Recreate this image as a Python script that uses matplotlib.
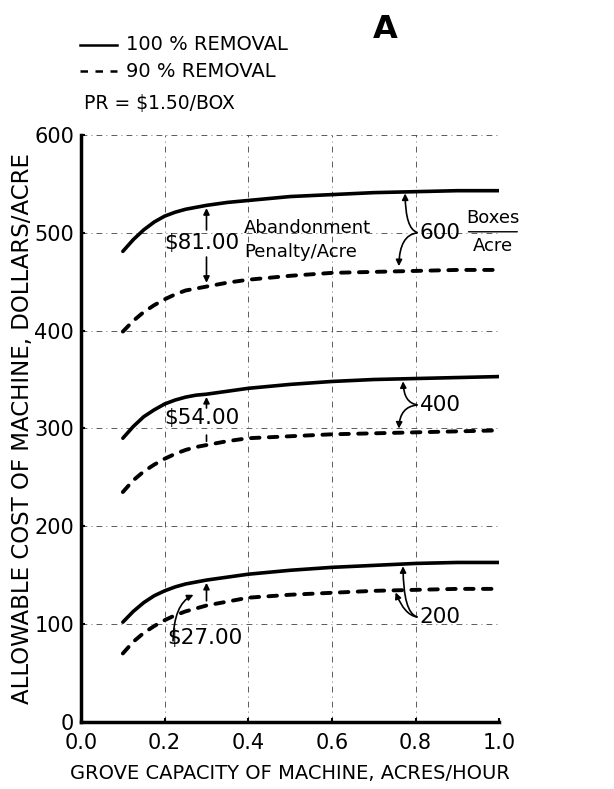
import numpy as np
import matplotlib.pyplot as plt

# grove capacity, acres/hour
capacity = [0.1, 0.125, 0.15, 0.175, 0.2, 0.225, 0.25, 0.275, 0.3, 0.35, 0.4,
            0.5, 0.6, 0.7, 0.8, 0.9, 1.0]

# allowable cost, dollars/acre
full_600 = [481, 493, 503, 511, 517, 521, 524, 526, 528, 531, 533, 537, 539, 541, 542, 543, 543]
part_600 = [399, 410, 419, 426, 432, 437, 441, 443, 445, 449, 452, 456, 459, 460, 461, 462, 462]
full_400 = [290, 302, 312, 319, 325, 329, 332, 334, 335, 338, 341, 345, 348, 350, 351, 352, 353]
part_400 = [235, 247, 256, 263, 269, 274, 278, 281, 283, 287, 290, 292, 294, 295, 296, 297, 298]
full_200 = [102, 113, 122, 129, 134, 138, 141, 143, 145, 148, 151, 155, 158, 160, 162, 163, 163]
part_200 = [70, 82, 91, 98, 104, 109, 113, 116, 119, 123, 127, 130, 132, 134, 135, 136, 136]

xticks = [0.0, 0.2, 0.4, 0.6, 0.8, 1.0]
xlabels = ["0.0", "0.2", "0.4", "0.6", "0.8", "1.0"]
yticks = [0, 100, 200, 300, 400, 500, 600]

plt.rcParams["font.family"] = "DejaVu Sans"

fig = plt.figure(figsize=(6.14, 7.89), dpi=100)
ax = fig.add_axes([0.132, 0.085, 0.681, 0.744])

grid = dict(color="0.25", lw=0.6, ls=(0, (7, 5, 1, 5)), zorder=0)
for x in xticks[1:]:
    ax.axvline(x, **grid)
for y in yticks[1:]:
    ax.axhline(y, **grid)

solid = dict(color="black", lw=2.6, solid_capstyle="round", solid_joinstyle="round")
dashed = dict(color="black", lw=2.8, ls=(0, (2.2, 2.4)), dash_capstyle="round")
ax.plot(capacity, full_600, **solid)
ax.plot(capacity, part_600, **dashed)
ax.plot(capacity, full_400, **solid)
ax.plot(capacity, part_400, **dashed)
ax.plot(capacity, full_200, **solid)
ax.plot(capacity, part_200, **dashed)

ax.set_xlim(0, 1.0)
ax.set_ylim(0, 600)
ax.set_xticks(xticks)
ax.set_xticklabels(xlabels)
ax.set_yticks(yticks)
ax.tick_params(labelsize=15, length=3, width=1.5, direction="in")
ax.tick_params(axis="x", pad=8)
ax.tick_params(axis="y", pad=5)
for s in ["top", "right"]:
    ax.spines[s].set_visible(False)
for s in ["left", "bottom"]:
    ax.spines[s].set_linewidth(2.5)

ax.set_xlabel("GROVE CAPACITY OF MACHINE, ACRES/HOUR", fontsize=14, labelpad=8)
ax.set_ylabel("ALLOWABLE COST OF MACHINE, DOLLARS/ACRE", fontsize=16.5, labelpad=0)

arrow = dict(arrowstyle="-|>", color="black", lw=1.2, mutation_scale=9)
line = dict(arrowstyle="-", color="black", lw=1.2)
fs = 15.5

# 600 boxes/acre group
ax.text(0.2, 490, "$81.00", fontsize=fs, ha="left", va="center")
ax.annotate("", xy=(0.3, 528), xytext=(0.3, 500), arrowprops=arrow)
ax.annotate("", xy=(0.3, 446), xytext=(0.3, 478), arrowprops=arrow)
ax.text(0.39, 505, "Abandonment", fontsize=13, ha="left", va="center")
ax.text(0.39, 480, "Penalty/Acre", fontsize=13, ha="left", va="center")
ax.text(0.81, 500, "600", fontsize=fs, ha="left", va="center")
ax.text(0.985, 515, "Boxes", fontsize=13, ha="center", va="center", clip_on=False)
ax.text(0.985, 486, "Acre", fontsize=13, ha="center", va="center", clip_on=False)
ax.annotate("", xy=(0.92, 501), xytext=(1.05, 501),
            arrowprops=dict(arrowstyle="-", color="black", lw=1.0))
ax.annotate("", xy=(0.775, 543), xytext=(0.81, 500),
            arrowprops=dict(arrow, connectionstyle="angle3,angleA=180,angleB=-90"))
ax.annotate("", xy=(0.76, 463), xytext=(0.81, 500),
            arrowprops=dict(arrow, connectionstyle="angle3,angleA=180,angleB=90"))

# 400 boxes/acre group
ax.text(0.2, 311, "$54.00", fontsize=fs, ha="left", va="center")
ax.annotate("", xy=(0.3, 335), xytext=(0.3, 318), arrowprops=arrow)
ax.annotate("", xy=(0.3, 284), xytext=(0.3, 296), arrowprops=line)
ax.text(0.81, 324, "400", fontsize=fs, ha="left", va="center")
ax.annotate("", xy=(0.77, 351), xytext=(0.81, 324),
            arrowprops=dict(arrow, connectionstyle="angle3,angleA=180,angleB=-90"))
ax.annotate("", xy=(0.76, 297), xytext=(0.81, 324),
            arrowprops=dict(arrow, connectionstyle="angle3,angleA=180,angleB=90"))

# 200 boxes/acre group
ax.text(0.205, 86, "$27.00", fontsize=fs, ha="left", va="center")
ax.annotate("", xy=(0.275, 131), xytext=(0.22, 80),
            arrowprops=dict(arrow, connectionstyle="angle3,angleA=90,angleB=20"))
ax.annotate("", xy=(0.3, 145), xytext=(0.3, 121), arrowprops=arrow)
ax.text(0.81, 107, "200", fontsize=fs, ha="left", va="center")
ax.annotate("", xy=(0.77, 162), xytext=(0.81, 107),
            arrowprops=dict(arrow, connectionstyle="angle3,angleA=180,angleB=-90"))
ax.annotate("", xy=(0.75, 135), xytext=(0.81, 107),
            arrowprops=dict(arrow, connectionstyle="angle3,angleA=180,angleB=110"))

# legend block and panel letter
fig.text(0.627, 0.962, "A", fontsize=23, fontweight="bold", ha="center", va="center")
fig.lines.append(plt.Line2D([0.13, 0.19], [0.943, 0.943], color="black", lw=1.8,
                            transform=fig.transFigure))
fig.text(0.205, 0.943, "100 % REMOVAL", fontsize=14, ha="left", va="center")
fig.lines.append(plt.Line2D([0.13, 0.19], [0.91, 0.91], color="black", lw=1.8,
                            ls=(0, (3, 3)), transform=fig.transFigure))
fig.text(0.205, 0.91, "90 % REMOVAL", fontsize=14, ha="left", va="center")
fig.text(0.136, 0.869, "PR = $1.50/BOX", fontsize=13.5, ha="left", va="center")

fig.savefig("out.png", dpi=100)
